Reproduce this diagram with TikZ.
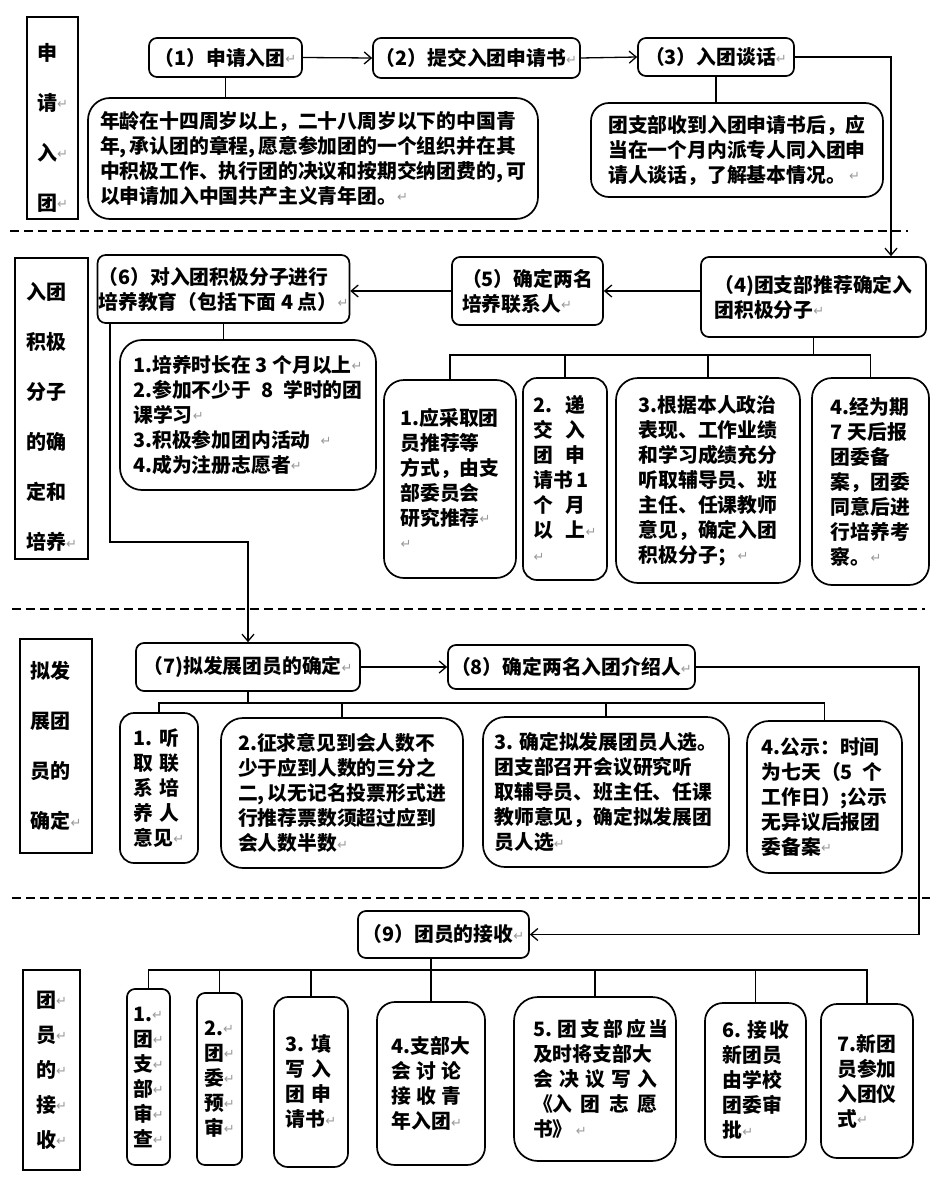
\documentclass[tikz,border=0pt]{standalone}
\usepackage{fontspec}
\setmainfont{Noto Sans CJK SC}
\newfontfamily\djv{DejaVu Sans}
\usetikzlibrary{arrows.meta}
\definecolor{rtgray}{gray}{0.6}
\def\rt{{\djv\mdseries\fontsize{13}{13}\selectfont\raisebox{1.5pt}{\textcolor{rtgray}{↵}}}}
\def\hc{\makebox[0.5em][l]{,}}
\def\spread#1#2{\makebox[#1][s]{#2}}
\tikzset{
	lab/.style={draw, line width=1.8pt, inner sep=1pt, align=left, font=\bfseries\fontsize{20}{50}\selectfont},
	hdr/.style={draw, line width=1.7pt, rounded corners=8pt, inner sep=1pt, align=left, font=\bfseries\fontsize{19.8}{25}\selectfont},
	txt/.style={hdr, rounded corners=#1},
	conn/.style={line width=1.3pt},
	arr/.style={conn, -{Straight Barb[length=7pt,width=12pt]}},
	sep/.style={line width=1.5pt, dash pattern=on 9pt off 5pt}
}

\begin{document}
\begin{tikzpicture}[x=1pt, y=-1pt]
		%%%%% START %%%%%
		\useasboundingbox (0,0) rectangle (943,1196);
		
		% applying
		\node[lab, minimum width=51, minimum height=202] (labA) at (52.5,118) {\rule{0pt}{36pt}申\\请\rt\\入\rt\\团\rt};
		\node[hdr, minimum width=153, minimum height=39] (h1) at (225.5,57.5) {（1）申请入团\rt};
		\node[hdr, minimum width=207, minimum height=40] (h2) at (476.5,58) {（2）提交入团申请书\rt};
		\node[hdr, minimum width=156, minimum height=38] (h3) at (716,57) {（3）入团谈话\rt};
		\node[txt=22pt, minimum width=450, minimum height=121] (t1) at (313,158.5) {年龄在十四周岁以上，二十八周岁以下的中国青\\年\hc 承认团的章程\hc 愿意参加团的一个组织并在其\\中积极工作、执行团的决议和按期交纳团费的\hc 可\\以申请加入中国共产主义青年团。\rt};
		\node[txt=18pt, minimum width=292, minimum height=94] (t2) at (737,150) {团支部收到入团申请书后，应\\当在一个月内派专人同入团申\\请人谈话，了解基本情况。\,\rt};
		
		\draw[arr] (h1.east) -- (h2.west);
		\draw[arr] (h2.east) -- (h3.west);
		\draw[conn] (h1.south) -- (h1.south |- t1.north);
		\draw[conn] (h3.south) -- (h3.south |- t2.north);
		
		\draw[sep] (10,231) -- (908,231);
		
		% activists
		\node[lab, minimum width=73, minimum height=301] (labB) at (51.5,408.5) {\rule{0pt}{34pt}入团\\积极\\分子\\的确\\定和\\培养\rt};
		\node[hdr, minimum width=251, minimum height=68] (h6) at (223.5,289) {（6）对入团积极分子进行\\培养教育（包括下面 4 点）\rt};
		\node[hdr, minimum width=151, minimum height=68] (h5) at (527.5,291) {（5）确定两名\\培养联系人\rt};
		\node[hdr, minimum width=225, minimum height=80] (h4) at (813.5,297) {（4)团支部推荐确定入\\团积极分子\rt};
		\node[txt=22pt, minimum width=256, minimum height=150] (t6) at (248,415) {1.培养时长在 3 个月以上\rt\\2.参加不少于\enspace 8\enspace 学时的团\\课学习\rt\\3.积极参加团内活动\enspace\rt\\4.成为注册志愿者\rt};
		\node[txt=20pt, minimum width=132, minimum height=198] (b4a) at (450,479) {1.应采取团\\员推荐等\\方式，由支\\部委员会\\研究推荐\rt\\\rt};
		\node[txt=14pt, minimum width=84, minimum height=202] (b4b) at (565,479) {\spread{52pt}{2. 递}\\\spread{52pt}{交 入}\\\spread{52pt}{团 申}\\\spread{52pt}{请书 1}\\\spread{52pt}{个 月}\\\spread{52pt}{以 上}\rt\\\rt};
		\node[txt=22pt, minimum width=184, minimum height=205] (b4c) at (708,480.5) {3.根据本人政治\\表现、工作业绩\\和学习成绩充分\\听取辅导员、班\\主任、任课教师\\意见，确定入团\\积极分子；\rt};
		\node[txt=20pt, minimum width=117, minimum height=207] (b4d) at (870.5,481.5) {4.经为期\\7 天后报\\团委备\\案，团委\\同意后进\\行培养考\\察。\rt};
		
		\coordinate (k3) at (891,57);
		\draw[arr] (h3.east) -- (k3) -- (k3 |- h4.north);
		\draw[arr] (h4.west |- h5.east) -- (h5.east);
		\draw[arr] (h5.west) -- (h5.west -| h6.east);
		\draw[conn] (h6.south) -- (h6.south |- t6.north);
		\coordinate (busB) at (0,355);
		\draw[conn] (h4.south) -- (h4.south |- busB);
		\draw[conn] (b4a.north) |- (busB -| b4d.north) -- (b4d.north);
		\draw[conn] (b4b.north) -- (b4b.north |- busB);
		\draw[conn] (b4c.north) -- (b4c.north |- busB);
		
		\draw[sep] (12,609) -- (925,609);
		
		% candidates
		\node[lab, minimum width=72, minimum height=214] (labC) at (56,746) {拟发\\展团\\员的\\确定\rt};
		\node[hdr, minimum width=224, minimum height=48] (h7) at (248,667) {（7)拟发展团员的确定\rt};
		\node[hdr, minimum width=247, minimum height=44] (h8) at (571.5,667) {（8）确定两名入团介绍人\rt};
		\node[txt=14pt, minimum width=78, minimum height=150] (b7a) at (159,788) {\spread{46pt}{1. 听}\\\spread{46pt}{取 联}\\\spread{46pt}{系 培}\\\spread{46pt}{养 人}\\意见\rt};
		\node[txt=22pt, minimum width=242, minimum height=150] (b7b) at (342,793) {2.征求意见到会人数不\\少于应到人数的三分之\\二\hc 以无记名投票形式进\\行推荐票数须超过应到\\会人数半数\rt};
		\node[txt=22pt, minimum width=246, minimum height=150] (b7c) at (606,792) {3. 确定拟发展团员人选。\\团支部召开会议研究听\\取辅导员、班主任、任课\\教师意见，确定拟发展团\\员人选\rt};
		\node[txt=22pt, minimum width=155, minimum height=152] (b7d) at (824.5,797) {4.公示：时间\\为七天（5\enspace 个\\工作日）;公示\\无异议后报团\\委备案\rt};
		
		\coordinate (k6) at (110,542);
		\draw[arr] (h6.south -| k6) -- (k6) -| (h7.north);
		\draw[arr] (h7.east) -- (h8.west);
		\coordinate (busC) at (0,703);
		\draw[conn] (h7.south) -- (h7.south |- busC);
		\draw[conn] (b7a.north) |- (busC -| b7d.north) -- (b7d.north);
		\draw[conn] (b7b.north) -- (b7b.north |- busC);
		\draw[conn] (b7c.north) -- (b7c.north |- busC);
		
		\draw[sep] (12,898) -- (930,898);
		
		% admission
		\node[lab, minimum width=57, minimum height=200, font=\bfseries\fontsize{20}{35}\selectfont] (labD) at (51.5,1070) {团\rt\\员\rt\\的\rt\\接\rt\\收\rt};
		\node[hdr, minimum width=171, minimum height=47] (h9) at (443.5,934.5) {（9）团员的接收\rt};
		\node[txt=8pt, minimum width=43, minimum height=176] (b9a) at (148.5,1077) {1.\rt\\团\rt\\支\rt\\部\rt\\审\rt\\查\rt};
		\node[txt=8pt, minimum width=45, minimum height=172] (b9b) at (219.5,1079) {2.\rt\\团\rt\\委\rt\\预\rt\\审\rt};
		\node[txt=14pt, minimum width=74, minimum height=170] (b9c) at (311,1082) {\spread{46pt}{3. 填}\\\spread{46pt}{写 入}\\\spread{46pt}{团 申}\\请书\rt};
		\node[txt=18pt, minimum width=108, minimum height=163] (b9d) at (431,1083.5) {4.支部大\\\spread{70pt}{会 讨 论}\\\spread{70pt}{接 收 青}\\年入团\rt};
		\node[txt=24pt, minimum width=162, minimum height=164] (b9e) at (595,1079) {\spread{124pt}{5. 团 支 部 应 当}\\及时将支部大\\\spread{124pt}{会 决 议 写 入}\\\spread{124pt}{《入 团 志 愿}\\书》\,\rt};
		\node[txt=18pt, minimum width=101, minimum height=154] (b9f) at (755.5,1080) {\spread{66pt}{6. 接 收}\\新团员\\由学校\\团委审\\批\rt};
		\node[txt=16pt, minimum width=92, minimum height=154] (b9g) at (867,1081) {7.新团\\员参加\\入团仪\\式\rt};
		
		\coordinate (k8) at (919,934.5);
		\draw[arr] (h8.east) -| (k8) -- (k8 -| h9.east);
		\coordinate (busD) at (0,970);
		\draw[conn] (h9.south -| b9d.north) -- (b9d.north);
		\draw[conn] (b9a.north) |- (busD -| b9g.north) -- (b9g.north);
		\draw[conn] (b9b.north) -- (b9b.north |- busD);
		\draw[conn] (b9c.north) -- (b9c.north |- busD);
		\draw[conn] (b9e.north) -- (b9e.north |- busD);
		\draw[conn] (b9f.north) -- (b9f.north |- busD);
		
		%%%%% END %%%%%
\end{tikzpicture}
\end{document}
